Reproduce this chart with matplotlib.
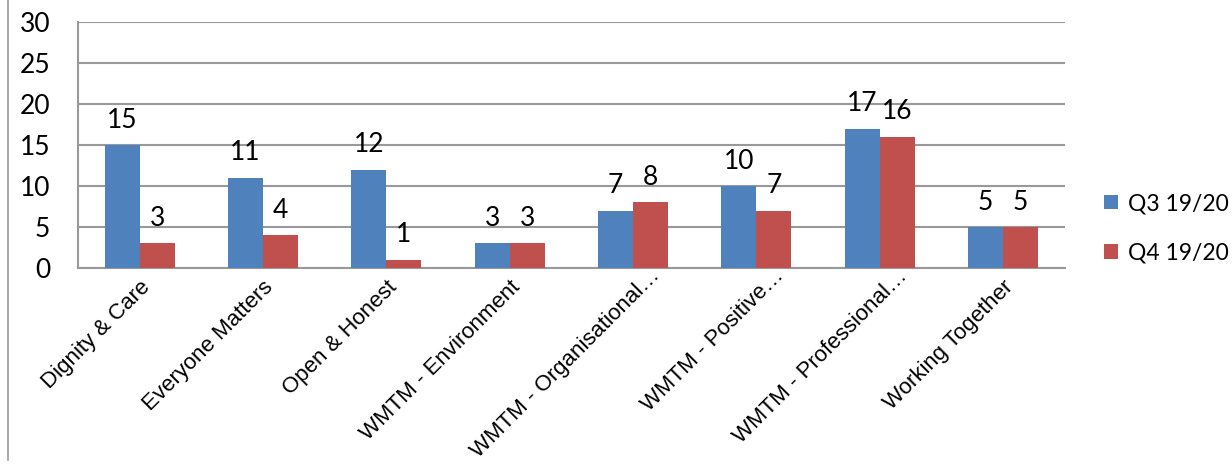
import matplotlib
matplotlib.use("Agg")
import matplotlib.pyplot as plt
from matplotlib.lines import Line2D
from matplotlib.transforms import offset_copy
import numpy as np

categories = ["Dignity & Care", "Everyone Matters", "Open & Honest",
              "WMTM - Environment", "WMTM - Organisational\u2026",
              "WMTM - Positive\u2026", "WMTM - Professional\u2026", "Working Together"]
q3 = [15, 11, 12, 3, 7, 10, 17, 5]
q4 = [3, 4, 1, 3, 8, 7, 16, 5]
series_names = ["Q3 19/20", "Q4 19/20"]

blue = "#4f81bd"
red = "#c0504d"
grid_col = "#999999"

fig = plt.figure(figsize=(12.32, 4.66), dpi=100)
ax = fig.add_axes([0.0633, 0.4249, 0.801, 0.528])

x = np.arange(len(categories))
w = 0.284
b1 = ax.bar(x - w / 2, q3, w, color=blue, label=series_names[0], zorder=3)
b2 = ax.bar(x + w / 2, q4, w, color=red, label=series_names[1], zorder=3)

num_font = dict(family=["Lato", "DejaVu Sans"], size=19)
for bars, vals in ((b1, q3), (b2, q4)):
    for r, v in zip(bars, vals):
        ax.text(r.get_x() + r.get_width() / 2, v + 1.5, str(v),
                ha="center", va="bottom", **num_font)

ax.set_xlim(-0.5, len(categories) - 0.5)
ax.set_ylim(0, 30)
ax.set_yticks(range(0, 31, 5))
ax.set_yticklabels([str(v) for v in range(0, 31, 5)], **num_font)
ax.yaxis.grid(True, color=grid_col, linewidth=1.5, zorder=0)
ax.tick_params(axis="y", length=0, pad=20)
ax.tick_params(axis="x", length=0, pad=6)
ax.set_xticks(x)
ax.set_xticklabels(categories, rotation=45, ha="right", rotation_mode="anchor",
                   family=["Liberation Sans", "DejaVu Sans"], fontsize=16)
# truncated labels sit a little higher and to the right
for lbl in ax.get_xticklabels():
    if lbl.get_text().endswith("\u2026"):
        lbl.set_transform(offset_copy(lbl.get_transform(), fig=fig,
                                      x=12, y=8, units="points"))
for side in ("top", "right"):
    ax.spines[side].set_visible(False)
for side in ("left", "bottom"):
    ax.spines[side].set_color(grid_col)
    ax.spines[side].set_linewidth(1.5)

leg = fig.legend(handles=[b1, b2], labels=series_names, loc="center left",
                 bbox_to_anchor=(0.889, 0.51), frameon=False,
                 prop=dict(family=["Lato", "DejaVu Sans"], size=16.5),
                 handlelength=0.6, handleheight=0.6, handletextpad=0.45,
                 labelspacing=1.25, borderaxespad=0)

# outer frame line on the left
fig.add_artist(Line2D([0.0068, 0.0068], [0.012, 1.0], color=grid_col,
                      linewidth=1.2, transform=fig.transFigure))

fig.savefig("out.png", dpi=100)
